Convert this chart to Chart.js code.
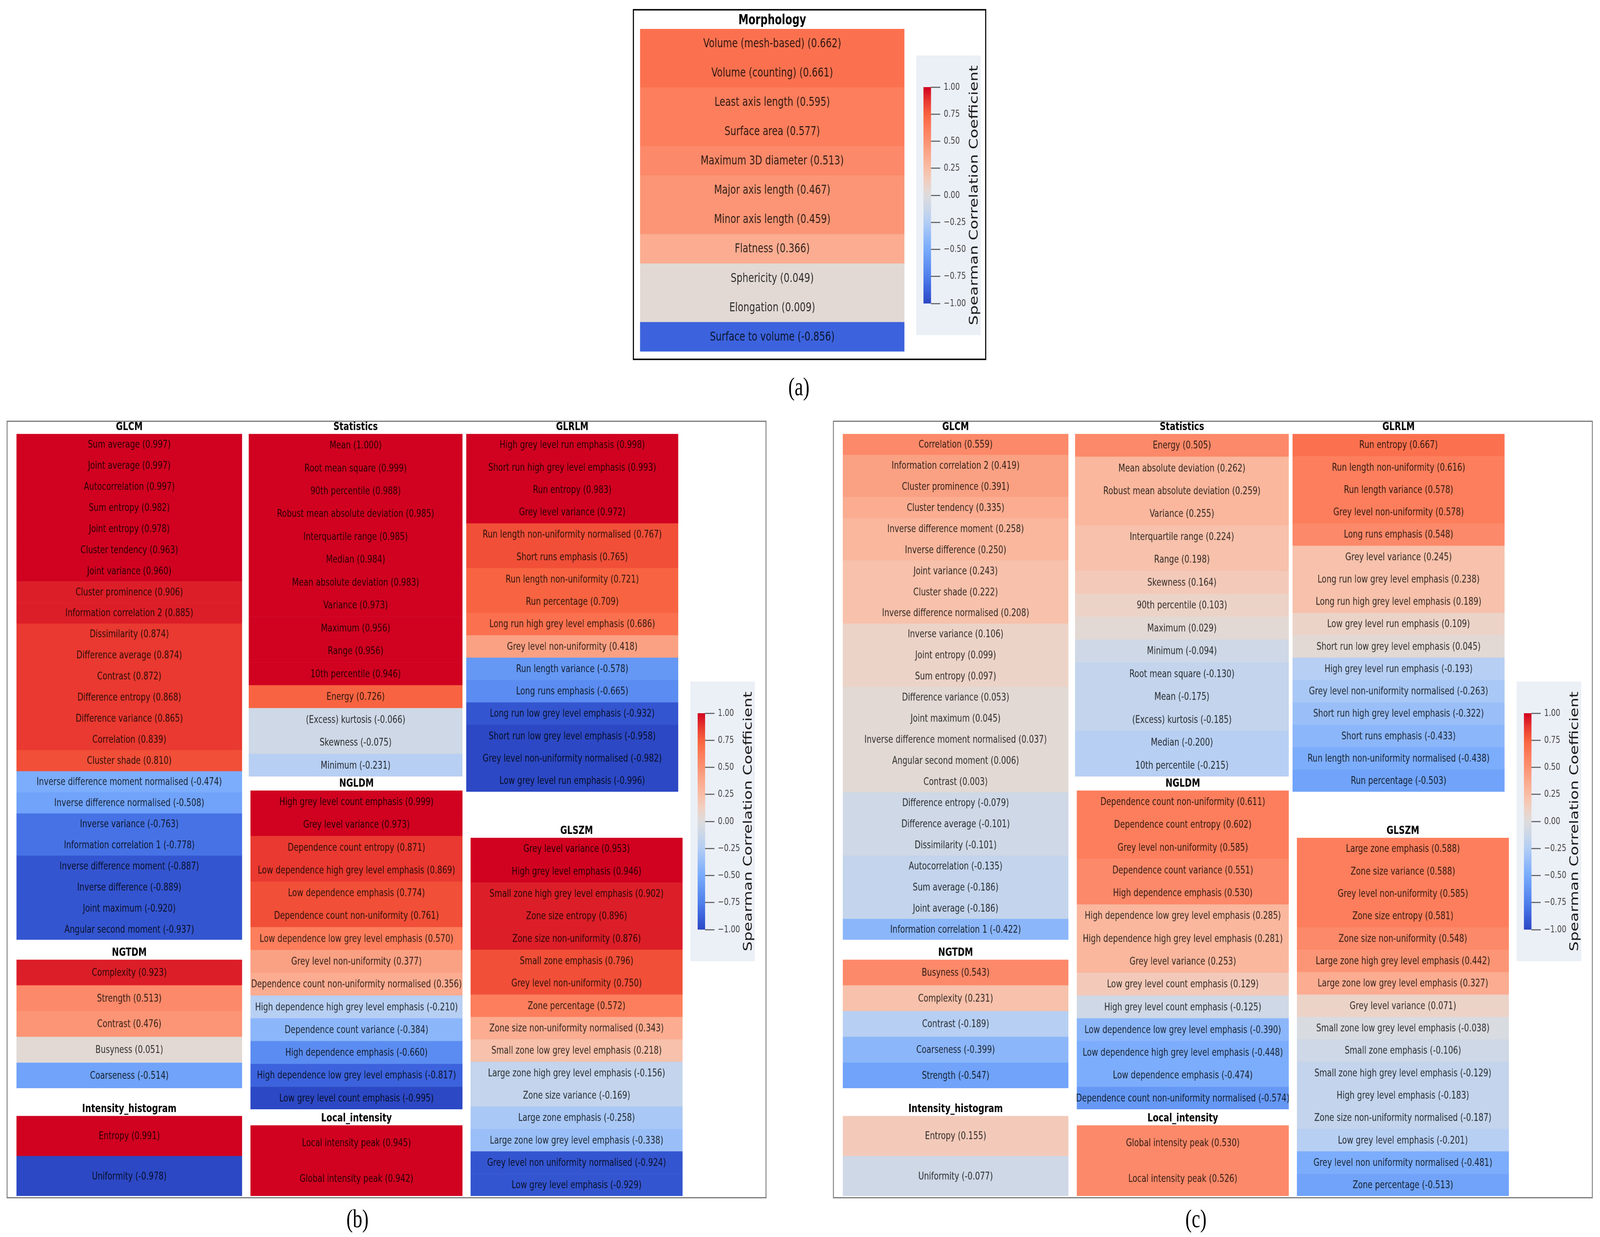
<!DOCTYPE html>
<html>
<head>
<meta charset="utf-8">
<title>Spearman correlation of radiomic features</title>
<script src="https://cdn.jsdelivr.net/npm/chart.js@4.4.1/dist/chart.umd.min.js"></script>
<style>
  html, body { margin: 0; padding: 0; background: #fff; overflow: hidden; }
  #fig { position: absolute; left: 0; top: 0; width: 5532px; height: 3167px; transform-origin: 0 0; background: #fff; }
  .frame { position: absolute; box-sizing: border-box; }
  .tile { position: absolute; }
  .cbar { position: absolute; background: #ebeff6; }
  .plabel { position: absolute; font-family: "Liberation Serif", serif; font-size: 66px; color: #000;
            transform: translate(-50%, -50%); line-height: 1; }
</style>
</head>
<body>
<div id="fig"></div>
<script>
// ─── Data ─────────────────────────────────────────────────
const morphNames = ['Volume (mesh-based)', 'Volume (counting)', 'Least axis length', 'Surface area',
  'Maximum 3D diameter', 'Major axis length', 'Minor axis length', 'Flatness', 'Sphericity',
  'Elongation', 'Surface to volume'];
const morphVals = [0.662, 0.661, 0.595, 0.577, 0.513, 0.467, 0.459, 0.366, 0.049, 0.009, -0.856];

// panel (b)
const glcmNamesB = ['Sum average', 'Joint average', 'Autocorrelation', 'Sum entropy', 'Joint entropy',
  'Cluster tendency', 'Joint variance', 'Cluster prominence', 'Information correlation 2', 'Dissimilarity',
  'Difference average', 'Contrast', 'Difference entropy', 'Difference variance', 'Correlation', 'Cluster shade',
  'Inverse difference moment normalised', 'Inverse difference normalised', 'Inverse variance',
  'Information correlation 1', 'Inverse difference moment', 'Inverse difference', 'Joint maximum',
  'Angular second moment'];
const glcmValsB = [0.997, 0.997, 0.997, 0.982, 0.978, 0.963, 0.960, 0.906, 0.885, 0.874, 0.874, 0.872, 0.868,
  0.865, 0.839, 0.810, -0.474, -0.508, -0.763, -0.778, -0.887, -0.889, -0.920, -0.937];
const ngtdmNamesB = ['Complexity', 'Strength', 'Contrast', 'Busyness', 'Coarseness'];
const ngtdmValsB = [0.923, 0.513, 0.476, 0.051, -0.514];
const histNamesB = ['Entropy', 'Uniformity'];
const histValsB = [0.991, -0.978];
const statNamesB = ['Mean', 'Root mean square', '90th percentile', 'Robust mean absolute deviation',
  'Interquartile range', 'Median', 'Mean absolute deviation', 'Variance', 'Maximum', 'Range', '10th percentile',
  'Energy', '(Excess) kurtosis', 'Skewness', 'Minimum'];
const statValsB = [1.000, 0.999, 0.988, 0.985, 0.985, 0.984, 0.983, 0.973, 0.956, 0.956, 0.946, 0.726, -0.066,
  -0.075, -0.231];
const ngldmNamesB = ['High grey level count emphasis', 'Grey level variance', 'Dependence count entropy',
  'Low dependence high grey level emphasis', 'Low dependence emphasis', 'Dependence count non-uniformity',
  'Low dependence low grey level emphasis', 'Grey level non-uniformity',
  'Dependence count non-uniformity normalised', 'High dependence high grey level emphasis',
  'Dependence count variance', 'High dependence emphasis', 'High dependence low grey level emphasis',
  'Low grey level count emphasis'];
const ngldmValsB = [0.999, 0.973, 0.871, 0.869, 0.774, 0.761, 0.570, 0.377, 0.356, -0.210, -0.384, -0.660,
  -0.817, -0.995];
const localNamesB = ['Local intensity peak', 'Global intensity peak'];
const localValsB = [0.945, 0.942];
const glrlmNamesB = ['High grey level run emphasis', 'Short run high grey level emphasis', 'Run entropy',
  'Grey level variance', 'Run length non-uniformity normalised', 'Short runs emphasis',
  'Run length non-uniformity', 'Run percentage', 'Long run high grey level emphasis', 'Grey level non-uniformity',
  'Run length variance', 'Long runs emphasis', 'Long run low grey level emphasis',
  'Short run low grey level emphasis', 'Grey level non-uniformity normalised', 'Low grey level run emphasis'];
const glrlmValsB = [0.998, 0.993, 0.983, 0.972, 0.767, 0.765, 0.721, 0.709, 0.686, 0.418, -0.578, -0.665,
  -0.932, -0.958, -0.982, -0.996];
const glszmNamesB = ['Grey level variance', 'High grey level emphasis', 'Small zone high grey level emphasis',
  'Zone size entropy', 'Zone size non-uniformity', 'Small zone emphasis', 'Grey level non-uniformity',
  'Zone percentage', 'Zone size non-uniformity normalised', 'Small zone low grey level emphasis',
  'Large zone high grey level emphasis', 'Zone size variance', 'Large zone emphasis',
  'Large zone low grey level emphasis', 'Grey level non uniformity normalised', 'Low grey level emphasis'];
const glszmValsB = [0.953, 0.946, 0.902, 0.896, 0.876, 0.796, 0.750, 0.572, 0.343, 0.218, -0.156, -0.169,
  -0.258, -0.338, -0.924, -0.929];

// panel (c)
const glcmNamesC = ['Correlation', 'Information correlation 2', 'Cluster prominence', 'Cluster tendency',
  'Inverse difference moment', 'Inverse difference', 'Joint variance', 'Cluster shade',
  'Inverse difference normalised', 'Inverse variance', 'Joint entropy', 'Sum entropy', 'Difference variance',
  'Joint maximum', 'Inverse difference moment normalised', 'Angular second moment', 'Contrast',
  'Difference entropy', 'Difference average', 'Dissimilarity', 'Autocorrelation', 'Sum average',
  'Joint average', 'Information correlation 1'];
const glcmValsC = [0.559, 0.419, 0.391, 0.335, 0.258, 0.250, 0.243, 0.222, 0.208, 0.106, 0.099, 0.097, 0.053,
  0.045, 0.037, 0.006, 0.003, -0.079, -0.101, -0.101, -0.135, -0.186, -0.186, -0.422];
const ngtdmNamesC = ['Busyness', 'Complexity', 'Contrast', 'Coarseness', 'Strength'];
const ngtdmValsC = [0.543, 0.231, -0.189, -0.399, -0.547];
const histNamesC = ['Entropy', 'Uniformity'];
const histValsC = [0.155, -0.077];
const statNamesC = ['Energy', 'Mean absolute deviation', 'Robust mean absolute deviation', 'Variance',
  'Interquartile range', 'Range', 'Skewness', '90th percentile', 'Maximum', 'Minimum', 'Root mean square',
  'Mean', '(Excess) kurtosis', 'Median', '10th percentile'];
const statValsC = [0.505, 0.262, 0.259, 0.255, 0.224, 0.198, 0.164, 0.103, 0.029, -0.094, -0.130, -0.175,
  -0.185, -0.200, -0.215];
const ngldmNamesC = ['Dependence count non-uniformity', 'Dependence count entropy', 'Grey level non-uniformity',
  'Dependence count variance', 'High dependence emphasis', 'High dependence low grey level emphasis',
  'High dependence high grey level emphasis', 'Grey level variance', 'Low grey level count emphasis',
  'High grey level count emphasis', 'Low dependence low grey level emphasis',
  'Low dependence high grey level emphasis', 'Low dependence emphasis',
  'Dependence count non-uniformity normalised'];
const ngldmValsC = [0.611, 0.602, 0.585, 0.551, 0.530, 0.285, 0.281, 0.253, 0.129, -0.125, -0.390, -0.448,
  -0.474, -0.574];
const localNamesC = ['Global intensity peak', 'Local intensity peak'];
const localValsC = [0.530, 0.526];
const glrlmNamesC = ['Run entropy', 'Run length non-uniformity', 'Run length variance',
  'Grey level non-uniformity', 'Long runs emphasis', 'Grey level variance', 'Long run low grey level emphasis',
  'Long run high grey level emphasis', 'Low grey level run emphasis', 'Short run low grey level emphasis',
  'High grey level run emphasis', 'Grey level non-uniformity normalised', 'Short run high grey level emphasis',
  'Short runs emphasis', 'Run length non-uniformity normalised', 'Run percentage'];
const glrlmValsC = [0.667, 0.616, 0.578, 0.578, 0.548, 0.245, 0.238, 0.189, 0.109, 0.045, -0.193, -0.263,
  -0.322, -0.433, -0.438, -0.503];
const glszmNamesC = ['Large zone emphasis', 'Zone size variance', 'Grey level non-uniformity',
  'Zone size entropy', 'Zone size non-uniformity', 'Large zone high grey level emphasis',
  'Large zone low grey level emphasis', 'Grey level variance', 'Small zone low grey level emphasis',
  'Small zone emphasis', 'Small zone high grey level emphasis', 'High grey level emphasis',
  'Zone size non-uniformity normalised', 'Low grey level emphasis', 'Grey level non uniformity normalised',
  'Zone percentage'];
const glszmValsC = [0.588, 0.588, 0.585, 0.581, 0.548, 0.442, 0.327, 0.071, -0.038, -0.106, -0.129, -0.183,
  -0.187, -0.201, -0.481, -0.513];

const cbarTicks = [-1.00, -0.75, -0.50, -0.25, 0.00, 0.25, 0.50, 0.75, 1.00];
const cbarTitle = 'Spearman Correlation Coefficient';

// ─── Fit the 5532×3167 figure into whatever viewport we got ──
const fig = document.getElementById('fig');
fig.style.transform = `scale(${window.innerWidth / 5532}, ${window.innerHeight / 3167})`;

// ─── Colour map (coolwarm-like, 32 levels) ────────────────
const cmapStops = [
  [-1.000, '#2c48c4'], [-0.875, '#3b62dc'], [-0.750, '#4f80ec'], [-0.500, '#78abfc'],
  [-0.250, '#b2cdf5'], [-0.125, '#cad7e9'], [0.000, '#dddcdc'], [0.125, '#f0d0c2'],
  [0.250, '#f9bda5'], [0.375, '#fba98d'], [0.500, '#fb9272'], [0.625, '#fd7c5a'],
  [0.750, '#f8623f'], [0.875, '#e8382f'], [1.000, '#d00220']
];

function hexRgb(h) {
  return [1, 3, 5].map(i => parseInt(h.slice(i, i + 2), 16));
}

function cmap(v) {
  v = Math.max(-1, Math.min(1, v));
  for (let i = 1; i < cmapStops.length; i++) {
    const [v1, c1] = cmapStops[i];
    if (v <= v1) {
      const [v0, c0] = cmapStops[i - 1];
      const t = (v - v0) / (v1 - v0);
      const a = hexRgb(c0), b = hexRgb(c1);
      return `rgb(${a.map((x, k) => Math.round(x + (b[k] - x) * t)).join(',')})`;
    }
  }
  return cmapStops[cmapStops.length - 1][1];
}

function cellColor(v) {
  const idx = Math.min(31, Math.floor((v + 1) / 2 * 32));
  return cmap(idx / 31 * 2 - 1);
}

// ─── Chart defaults / plugins ─────────────────────────────
Chart.defaults.font.family = '"DejaVu Sans", sans-serif';
Chart.defaults.animation = false;

const cellText = {
  id: 'cellText',
  afterDatasetsDraw(chart, args, opts) {
    const { ctx, chartArea } = chart;
    const ds = chart.data.datasets[0];
    const cx = (chartArea.left + chartArea.right) / 2;
    ctx.save();
    ctx.font = `${opts.size}px "DejaVu Sans"`;
    ctx.fillStyle = 'rgba(0,0,0,0.8)';
    ctx.textAlign = 'center';
    ctx.textBaseline = 'middle';
    chart.getDatasetMeta(0).data.forEach((bar, i) => {
      ctx.fillText(`${chart.data.labels[i]} (${ds.corr[i].toFixed(3)})`, cx, bar.y + 1);
    });
    ctx.restore();
  }
};

const cbarLabel = {
  id: 'cbarLabel',
  afterDraw(chart, args, opts) {
    if (!opts.text) return;
    const { ctx } = chart;
    ctx.save();
    ctx.translate(opts.x, chart.height / 2);
    ctx.rotate(-Math.PI / 2);
    ctx.font = '40px "DejaVu Sans"';
    ctx.fillStyle = '#1a1a1a';
    ctx.textAlign = 'center';
    ctx.textBaseline = 'middle';
    ctx.fillText(opts.text, 0, 0);
    ctx.restore();
  }
};

// ─── Builders ─────────────────────────────────────────────
function place(cls, x, y, w, h) {
  const d = document.createElement('div');
  d.className = cls;
  Object.assign(d.style, { left: x + 'px', top: y + 'px', width: w + 'px', height: h + 'px' });
  fig.appendChild(d);
  return d;
}

function tileGroup(g, names, vals) {
  const lh = g.titleSize * 1.2;
  const box = place('tile', g.x, g.top - lh, g.w, g.bottom - g.top + lh);
  const cv = document.createElement('canvas');
  box.appendChild(cv);
  new Chart(cv, {
    type: 'bar',
    data: {
      labels: names,
      datasets: [{
        data: vals.map(() => [0, 1]),
        corr: vals,
        backgroundColor: vals.map(cellColor),
        borderWidth: 0,
        categoryPercentage: 1,
        barPercentage: 1
      }]
    },
    options: {
      indexAxis: 'y',
      responsive: true, maintainAspectRatio: false,
      layout: { padding: 0 },
      scales: {
        x: { display: false, min: 0, max: 1 },
        y: { display: false }
      },
      plugins: {
        legend: { display: false },
        tooltip: { enabled: false },
        title: {
          display: true, text: g.title, color: '#000',
          font: { size: g.titleSize, weight: 'bold', lineHeight: 1.2 },
          padding: { top: 0, bottom: 0 }
        },
        cellText: { size: g.textSize }
      }
    },
    plugins: [cellText]
  });
}

function colorBar(x, y) {
  const W = 223, H = 716, barH = 554;
  const pad = (H - barH) / 2;
  const box = place('cbar', x, y, W, H);
  const cv = document.createElement('canvas');
  box.appendChild(cv);
  new Chart(cv, {
    type: 'bar',
    data: {
      labels: [''],
      datasets: [{
        data: [[cbarTicks[0], cbarTicks[cbarTicks.length - 1]]],
        backgroundColor(c) {
          const area = c.chart.chartArea;
          if (!area) return '#ccc';
          const gr = c.chart.ctx.createLinearGradient(0, area.bottom, 0, area.top);
          cmapStops.forEach(([v, col]) => gr.addColorStop((v + 1) / 2, col));
          return gr;
        },
        borderWidth: 0,
        categoryPercentage: 1,
        barPercentage: 1
      }]
    },
    options: {
      responsive: true, maintainAspectRatio: false,
      layout: { padding: { left: 25, right: 22, top: pad, bottom: pad } },
      scales: {
        x: { display: false },
        y: {
          position: 'right', min: -1, max: 1,
          afterBuildTicks(s) { s.ticks = cbarTicks.map(v => ({ value: v })); },
          afterFit(s) { s.width = 150; },
          border: { display: false },
          grid: { drawOnChartArea: false, drawTicks: true, tickLength: 32, tickWidth: 3, tickColor: '#6a6a6a' },
          ticks: {
            padding: 12, color: '#444', font: { size: 25 },
            callback: v => (v < 0 ? '\u2212' : '') + Math.abs(v).toFixed(2)
          }
        }
      },
      plugins: {
        legend: { display: false },
        tooltip: { enabled: false },
        cbarLabel: { text: cbarTitle, x: 202 }
      }
    },
    plugins: [cbarLabel]
  });
}

function panelLabel(text, x, y) {
  const d = document.createElement('div');
  d.className = 'plabel';
  d.textContent = text;
  Object.assign(d.style, { left: x + 'px', top: y + 'px' });
  fig.appendChild(d);
}

// ─── Panel (a) ────────────────────────────────────────────
const fa = place('frame', 2188, 23, 1222, 899);
fa.style.border = '4px solid #111';
tileGroup({ title: 'Morphology', x: 2213, w: 914, top: 74, bottom: 900, titleSize: 35, textSize: 32 },
  morphNames, morphVals);
colorBar(3168, 142);
panelLabel('(a)', 2762, 990);

// ─── Panels (b) and (c) ───────────────────────────────────
function texturePanel(dx, sets) {
  const f = place('frame', 23 + dx, 1077, 2627, 1991);
  f.style.border = '3px solid #7a7a7a';
  const base = { titleSize: 29, textSize: 27 };
  tileGroup({ ...base, title: 'GLCM', x: 57 + dx, w: 780, top: 1111, bottom: 2406 }, ...sets.glcm);
  tileGroup({ ...base, title: 'NGTDM', x: 57 + dx, w: 780, top: 2457, bottom: 2786 }, ...sets.ngtdm);
  tileGroup({ ...base, title: 'Intensity_histogram', x: 57 + dx, w: 780, top: 2857, bottom: 3062 }, ...sets.hist);
  tileGroup({ ...base, title: 'Statistics', x: 860 + dx, w: 739, top: 1111, bottom: 1988 }, ...sets.stat);
  tileGroup({ ...base, title: 'NGLDM', x: 866 + dx, w: 733, top: 2024, bottom: 2840 }, ...sets.ngldm);
  tileGroup({ ...base, title: 'Local_intensity', x: 866 + dx, w: 733, top: 2881, bottom: 3062 }, ...sets.local);
  tileGroup({ ...base, title: 'GLRLM', x: 1612 + dx, w: 733, top: 1111, bottom: 2027 }, ...sets.glrlm);
  tileGroup({ ...base, title: 'GLSZM', x: 1627 + dx, w: 733, top: 2145, bottom: 3062 }, ...sets.glszm);
  colorBar(2387 + dx, 1745);
}

texturePanel(0, {
  glcm: [glcmNamesB, glcmValsB], ngtdm: [ngtdmNamesB, ngtdmValsB], hist: [histNamesB, histValsB],
  stat: [statNamesB, statValsB], ngldm: [ngldmNamesB, ngldmValsB], local: [localNamesB, localValsB],
  glrlm: [glrlmNamesB, glrlmValsB], glszm: [glszmNamesB, glszmValsB]
});
texturePanel(2857, {
  glcm: [glcmNamesC, glcmValsC], ngtdm: [ngtdmNamesC, ngtdmValsC], hist: [histNamesC, histValsC],
  stat: [statNamesC, statValsC], ngldm: [ngldmNamesC, ngldmValsC], local: [localNamesC, localValsC],
  glrlm: [glrlmNamesC, glrlmValsC], glszm: [glszmNamesC, glszmValsC]
});
panelLabel('(b)', 1236, 3120);
panelLabel('(c)', 4135, 3120);
</script>
</body>
</html>
